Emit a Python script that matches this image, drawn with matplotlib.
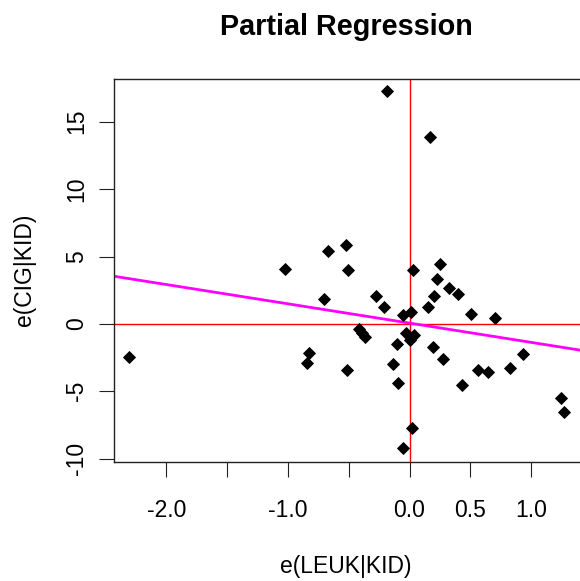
import numpy as np
import matplotlib
matplotlib.use("Agg")
import matplotlib.pyplot as plt

plt.rcParams['font.family'] = ['Liberation Sans', 'DejaVu Sans']

# residuals
e_leuk = [-2.31, -1.024, -0.673, -0.52, -0.503, -0.703, -0.275, -0.212, -0.051, 0.012,
          0.031, 0.248, 0.229, 0.325, 0.399, 0.199, 0.152, 0.506, 0.706, -0.413,
          -0.393, -0.363, -0.029, 0.037, 0.004, -0.105, 0.196, 0.273, -0.824, -0.840,
          -0.516, -0.133, -0.092, 0.429, 0.566, 0.648, 0.826, 0.936, 1.246, 1.273,
          0.018, -0.051, -0.185, 0.169]
e_cig = [-2.43, 4.05, 5.41, 5.83, 4.02, 1.82, 2.09, 1.25, 0.68, 0.88,
         4.02, 4.47, 3.33, 2.64, 2.24, 2.09, 1.25, 0.71, 0.46, -0.36,
         -0.65, -0.95, -0.65, -0.80, -1.19, -1.49, -1.74, -2.63, -2.16, -2.90,
         -3.44, -3.00, -4.36, -4.53, -3.42, -3.57, -3.30, -2.21, -5.50, -6.56,
         -7.72, -9.23, 17.28, 13.86]

fit_intercept = 0.06
fit_slope = -1.43

xticks = [-2.0, -1.5, -1.0, -0.5, 0.0, 0.5, 1.0]
xticklabels = ['-2.0', '', '-1.0', '', '0.0', '0.5', '1.0']
yticks = [-10, -5, 0, 5, 10, 15]
yticklabels = ['-10', '-5', '0', '5', '10', '15']

W, H = 580, 581
fig = plt.figure(figsize=(W / 100, H / 100), dpi=100)
# axes box in pixels: left 114.3, top 79, bottom 462, right runs off the image
ax = fig.add_axes([114.3 / W, (H - 462) / H, (W - 114.3) / W, (462 - 79) / H])

ax.axhline(0, color='#ff0000', lw=1.0, zorder=1)
ax.axvline(0, color='#ff0000', lw=1.0, zorder=1)
ax.axline((0, fit_intercept), slope=fit_slope, color='#ff00ff', lw=2.0, zorder=2)
ax.plot(e_leuk, e_cig, 'D', color='black', ms=6.0, mew=0.6, zorder=3)

ax.set_xlim(-2.428, 1.402)
ax.set_ylim(-10.245, 18.168)

ax.spines['right'].set_visible(False)
for s in ['left', 'bottom', 'top']:
    ax.spines[s].set_linewidth(1.0)
    ax.spines[s].set_color('#222222')

fs = 16.5
ax.set_xticks(xticks)
ax.set_xticklabels(xticklabels)
ax.set_yticks(yticks)
ax.set_yticklabels(yticklabels)
ax.tick_params(axis='both', length=10.8, width=0.8, labelsize=fs, color='#222222')
ax.tick_params(axis='x', pad=29)
ax.tick_params(axis='y', pad=11.5)
for t in ax.get_xticklabels():
    t.set_va('baseline')
for t in ax.get_yticklabels():
    t.set_rotation(90)
    t.set_rotation_mode('anchor')
    t.set_ha('center')
    t.set_va('baseline')

fig.text(346 / W, 1 - 35 / H, 'Partial Regression', ha='center', va='baseline',
         fontsize=20.7, fontweight='bold')
fig.text(346 / W, 1 - 573 / H, 'e(LEUK|KID)', ha='center', va='baseline', fontsize=fs)
fig.text(31.2 / W, 1 - 270 / H, 'e(CIG|KID)', ha='center', va='baseline', fontsize=fs,
         rotation=90, rotation_mode='anchor')

fig.savefig('out.png', dpi=100)
